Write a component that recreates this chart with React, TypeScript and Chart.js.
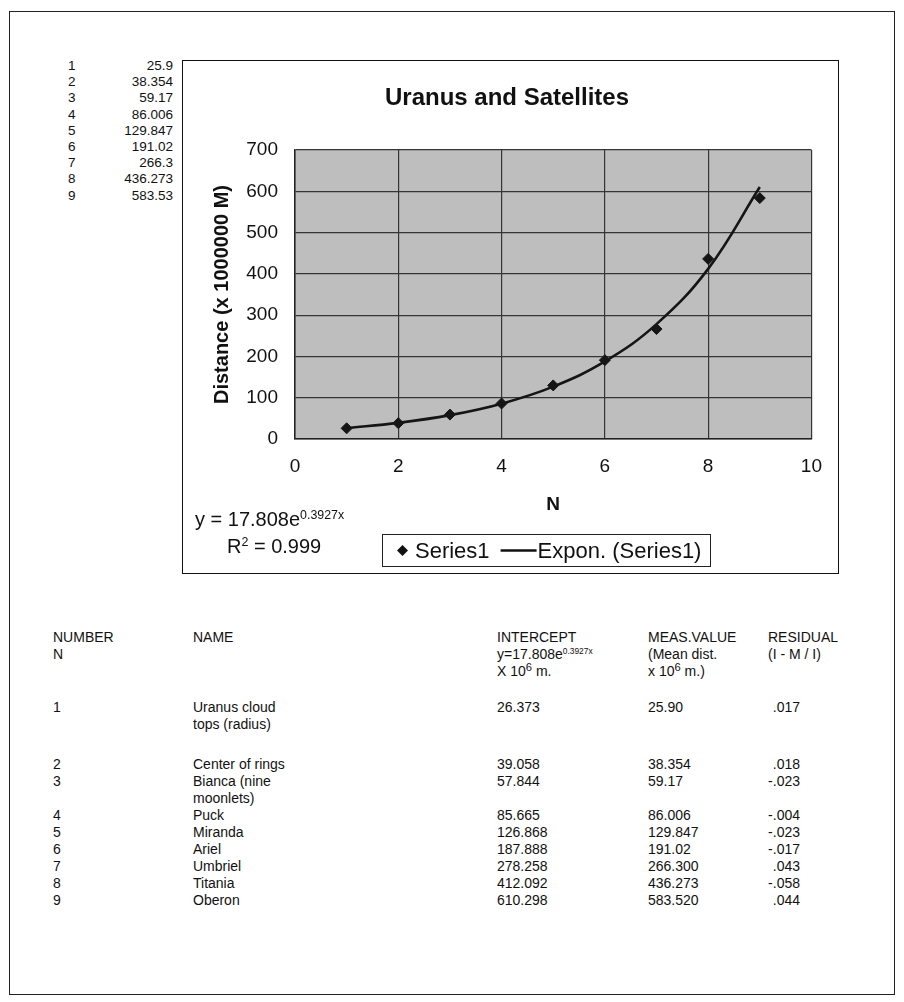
import React, { useEffect, useRef } from "react";
import { Chart, registerables } from "chart.js";

Chart.register(...registerables);

const FONT = "'Liberation Sans', Arial, Helvetica, sans-serif";

// ---- data ----
const N_VALUES = [1, 2, 3, 4, 5, 6, 7, 8, 9];
const MEASURED = [25.9, 38.354, 59.17, 86.006, 129.847, 191.02, 266.3, 436.273, 583.53];
const TREND = [26.373, 39.058, 57.844, 85.665, 126.868, 187.888, 278.258, 412.092, 610.298];
const X_TICKS = [0, 2, 4, 6, 8, 10];
const Y_TICKS = [0, 100, 200, 300, 400, 500, 600, 700];
const LIST_VALUES = ["25.9", "38.354", "59.17", "86.006", "129.847", "191.02", "266.3", "436.273", "583.53"];
const NAMES = [
  "Uranus cloud\ntops (radius)",
  "Center of rings",
  "Bianca (nine\nmoonlets)",
  "Puck",
  "Miranda",
  "Ariel",
  "Umbriel",
  "Titania",
  "Oberon",
];
const INTERCEPT_LABELS = ["26.373", "39.058", "57.844", "85.665", "126.868", "187.888", "278.258", "412.092", "610.298"];
const MEAS_LABELS = ["25.90", "38.354", "59.17", "86.006", "129.847", "191.02", "266.300", "436.273", "583.520"];
const RESIDUALS = [".017", ".018", "-.023", "-.004", "-.023", "-.017", ".043", "-.058", ".044"];

const plotBg = {
  id: "plotBg",
  beforeDraw(chart: any) {
    const { ctx, chartArea } = chart;
    if (!chartArea) return;
    ctx.save();
    ctx.fillStyle = "#bebebe";
    ctx.fillRect(chartArea.left, chartArea.top, chartArea.right - chartArea.left, chartArea.bottom - chartArea.top);
    ctx.restore();
  },
};

const customLegend = {
  id: "customLegend",
  afterDraw(chart: any) {
    const ctx = chart.ctx;
    const left = 200;
    const top = 474;
    const h = 32;
    ctx.save();
    ctx.font = `22px ${FONT}`;
    const l1 = chart.data.datasets[0].label;
    const l2 = chart.data.datasets[1].label;
    const w1 = ctx.measureText(l1).width;
    const w2 = ctx.measureText(l2).width;
    const padL = 15;
    const diamondW = 11;
    const gap1 = 7;
    const gap2 = 11;
    const lineW = 36;
    const gap3 = 1;
    const padR = 9;
    const boxW = Math.round(padL + diamondW + gap1 + w1 + gap2 + lineW + gap3 + w2 + padR);
    ctx.fillStyle = "#fff";
    ctx.fillRect(left, top, boxW, h);
    ctx.strokeStyle = "#222";
    ctx.lineWidth = 1;
    ctx.strokeRect(left + 0.5, top + 0.5, boxW, h);
    let x = left + padL;
    const my = top + h / 2 + 0.5;
    ctx.fillStyle = "#111";
    ctx.beginPath();
    ctx.moveTo(x + diamondW / 2, my - 5.5);
    ctx.lineTo(x + diamondW, my);
    ctx.lineTo(x + diamondW / 2, my + 5.5);
    ctx.lineTo(x, my);
    ctx.closePath();
    ctx.fill();
    x += diamondW + gap1;
    ctx.textBaseline = "middle";
    ctx.textAlign = "left";
    ctx.fillText(l1, x, my + 1);
    x += w1 + gap2;
    ctx.strokeStyle = "#111";
    ctx.lineWidth = 2.5;
    ctx.beginPath();
    ctx.moveTo(x, my);
    ctx.lineTo(x + lineW, my);
    ctx.stroke();
    x += lineW + gap3;
    ctx.fillText(l2, x, my + 1);
    ctx.restore();
  },
};

function UranusChart() {
  const ref = useRef<HTMLCanvasElement | null>(null);
  useEffect(() => {
    if (!ref.current) return;
    Chart.defaults.font.family = FONT;
    const chart = new Chart(ref.current, {
      type: "scatter",
      data: {
        datasets: [
          {
            label: "Series1",
            data: N_VALUES.map((x, i) => ({ x, y: MEASURED[i] })),
            pointStyle: "rectRot",
            pointRadius: 5.5,
            backgroundColor: "#151515",
            borderColor: "#151515",
            borderWidth: 1,
            showLine: false,
            order: 2,
          },
          {
            label: "Expon. (Series1)",
            data: N_VALUES.map((x, i) => ({ x, y: TREND[i] })),
            showLine: true,
            pointRadius: 0,
            borderColor: "#151515",
            borderWidth: 2.6,
            tension: 0.4,
            order: 1,
          } as any,
        ],
      },
      options: {
        responsive: false,
        animation: false,
        layout: { padding: { left: 0, right: 6, top: 0, bottom: 0 } },
        plugins: {
          legend: { display: false },
          tooltip: { enabled: false },
          title: {
            display: true,
            text: "Uranus and Satellites",
            color: "#111",
            font: { size: 24, weight: "bold", family: FONT },
            padding: { top: 23.6, bottom: 37.6 },
          },
        },
        scales: {
          x: {
            type: "linear",
            min: 0,
            max: 10,
            afterBuildTicks: (s: any) => {
              s.ticks = X_TICKS.map((v) => ({ value: v }));
            },
            afterFit: (s: any) => {
              s.height = 133;
            },
            ticks: { color: "#111", font: { size: 19, family: FONT }, padding: 16 },
            grid: { color: "#353535", lineWidth: 1.2, drawTicks: false },
            border: { color: "#222", width: 1.5 },
            title: {
              display: true,
              text: "N",
              color: "#111",
              font: { size: 19, weight: "bold", family: FONT },
              padding: { top: 0, bottom: 56 },
            },
          },
          y: {
            type: "linear",
            min: 0,
            max: 700,
            afterBuildTicks: (s: any) => {
              s.ticks = Y_TICKS.map((v) => ({ value: v }));
            },
            afterFit: (s: any) => {
              s.width = 113;
            },
            ticks: { color: "#111", font: { size: 19, family: FONT }, padding: 17 },
            grid: { color: "#353535", lineWidth: 1.2, drawTicks: false },
            border: { color: "#222", width: 1.5 },
            title: {
              display: true,
              text: "Distance (x 1000000 M)",
              color: "#111",
              font: { size: 20, weight: "bold", family: FONT },
              padding: { top: 28, bottom: 0 },
            },
          },
        },
      },
      plugins: [plotBg, customLegend],
    });
    return () => chart.destroy();
  }, []);
  return <canvas ref={ref} width={656} height={512} style={{ position: "absolute", left: 182, top: 60, width: 656, height: 512 }} />;
}

const supSmall: React.CSSProperties = { fontSize: "0.62em", position: "relative", top: "-0.55em", verticalAlign: "baseline", lineHeight: 0 };
const sup6: React.CSSProperties = { fontSize: "0.8em", position: "relative", top: "-0.45em", verticalAlign: "baseline", lineHeight: 0 };

export default function App() {
  const LINE = 17;
  const rowTops: number[] = [];
  let y = 699;
  NAMES.forEach((n, i) => {
    rowTops.push(y);
    const lines = n.split("\n").length;
    y += lines * LINE + (i === 0 ? 23 : 0);
  });
  const abs = (left: number, top: number, extra: React.CSSProperties = {}): React.CSSProperties => ({
    position: "absolute",
    left,
    top,
    ...extra,
  });
  return (
    <div style={{ position: "absolute", left: 0, top: 0, width: 904, height: 1002, background: "#fff", fontFamily: FONT, color: "#111", overflow: "hidden" }}>
      {/* outer page frame */}
      <div style={{ position: "absolute", left: 9, top: 11, width: 884, height: 982, border: "1.5px solid #222" }} />

      {/* data list at top left */}
      {LIST_VALUES.map((v, i) => (
        <React.Fragment key={i}>
          <div style={abs(68, 58 + i * 16.2, { fontSize: 13.5, lineHeight: "16px" })}>{N_VALUES[i]}</div>
          <div style={abs(93, 58 + i * 16.2, { fontSize: 13.5, lineHeight: "16px", width: 80, textAlign: "right" })}>{v}</div>
        </React.Fragment>
      ))}

      <UranusChart />
      {/* chart frame */}
      <div style={{ position: "absolute", left: 182, top: 60, width: 655, height: 512, border: "1.5px solid #111", pointerEvents: "none" }} />

      {/* trendline equation */}
      <div style={abs(195, 507, { fontSize: 20, lineHeight: "24px", whiteSpace: "nowrap" })}>
        y = 17.808e<span style={supSmall}>0.3927x</span>
      </div>
      <div style={abs(227, 534, { fontSize: 20, lineHeight: "24px", whiteSpace: "nowrap" })}>
        R<span style={supSmall}>2</span> = 0.999
      </div>

      {/* table header */}
      <div style={abs(53, 629, { fontSize: 14, lineHeight: LINE + "px" })}>
        NUMBER
        <br />N
      </div>
      <div style={abs(193, 629, { fontSize: 14, lineHeight: LINE + "px" })}>NAME</div>
      <div style={abs(497, 629, { fontSize: 14, lineHeight: LINE + "px", whiteSpace: "nowrap" })}>
        INTERCEPT
        <br />
        y=17.808e<span style={{ ...supSmall, fontSize: "0.6em" }}>0.3927x</span>
        <br />X 10<span style={sup6}>6</span> m.
      </div>
      <div style={abs(648, 629, { fontSize: 14, lineHeight: LINE + "px", whiteSpace: "nowrap" })}>
        MEAS.VALUE
        <br />
        (Mean dist.
        <br />x 10<span style={sup6}>6</span> m.)
      </div>
      <div style={abs(768, 629, { fontSize: 14, lineHeight: LINE + "px", whiteSpace: "nowrap" })}>
        RESIDUAL
        <br />
        (I - M / I)
      </div>

      {/* table rows */}
      {NAMES.map((n, i) => (
        <React.Fragment key={"r" + i}>
          <div style={abs(53, rowTops[i], { fontSize: 14, lineHeight: LINE + "px" })}>{N_VALUES[i]}</div>
          <div style={abs(193, rowTops[i], { fontSize: 14, lineHeight: LINE + "px", whiteSpace: "pre-line" })}>{n}</div>
          <div style={abs(497, rowTops[i], { fontSize: 14, lineHeight: LINE + "px" })}>{INTERCEPT_LABELS[i]}</div>
          <div style={abs(648, rowTops[i], { fontSize: 14, lineHeight: LINE + "px" })}>{MEAS_LABELS[i]}</div>
          <div style={abs(740, rowTops[i], { fontSize: 14, lineHeight: LINE + "px", width: 60, textAlign: "right" })}>{RESIDUALS[i]}</div>
        </React.Fragment>
      ))}
    </div>
  );
}
